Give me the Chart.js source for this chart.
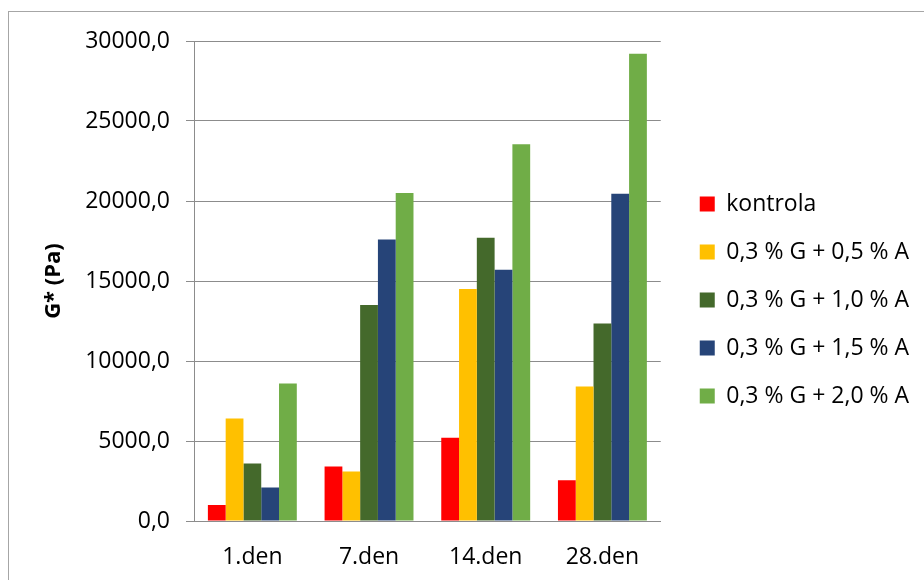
<!DOCTYPE html>
<html>
<head>
<meta charset="utf-8">
<script src="https://cdn.jsdelivr.net/npm/chart.js@4/dist/chart.umd.min.js"></script>
<style>
  html, body { margin: 0; padding: 0; background: #ffffff; }
  #wrap { position: relative; width: 924px; height: 580px; overflow: hidden; }
</style>
</head>
<body>
<div id="wrap"><canvas id="chart" width="924" height="580"></canvas></div>
<script>
// Sampling days
const categories = ['1.den', '7.den', '14.den', '28.den'];

// Complex modulus G* (Pa) per formulation
const seriesNames = [
  'kontrola',
  '0,3 % G + 0,5 % A',
  '0,3 % G + 1,0 % A',
  '0,3 % G + 1,5 % A',
  '0,3 % G + 2,0 % A'
];
const kontrola = [1000, 3400, 5200, 2550];
const g03a05  = [6400, 3100, 14500, 8400];
const g03a10  = [3600, 13500, 17700, 12350];
const g03a15  = [2100, 17600, 15700, 20450];
const g03a20  = [8600, 20500, 23550, 29200];

// Y axis tick values
const yTickValues = [0, 5000, 10000, 15000, 20000, 25000, 30000];

const seriesColors = ['#FF0000', '#FFC000', '#44692B', '#264478', '#70AD47'];
const seriesValues = [kontrola, g03a05, g03a10, g03a15, g03a20];

Chart.defaults.font.family = "'Open Sans', sans-serif";
Chart.defaults.font.size = 23;
Chart.defaults.color = '#000000';

// Outer frame of the chart
const framePlugin = {
  id: 'frame',
  beforeDraw(chart) {
    const ctx = chart.ctx;
    ctx.save();
    ctx.fillStyle = '#ffffff';
    ctx.fillRect(0, 0, chart.width, chart.height);
    ctx.strokeStyle = '#a6a6a6';
    ctx.lineWidth = 1;
    ctx.strokeRect(8.5, 11.5, 1000, 1000);
    ctx.restore();
  }
};

// Nudge the legend column a little away from the plot
const legendPlacement = {
  id: 'legendPlacement',
  afterLayout(chart) {
    const lg = chart.legend;
    if (!lg) return;
    lg.left += 14;
    lg.right = chart.width;
    lg.top -= 6;
    lg.bottom -= 6;
  }
};

new Chart(document.getElementById('chart'), {
  type: 'bar',
  data: {
    labels: categories,
    datasets: seriesNames.map((name, i) => ({
      label: name,
      data: seriesValues[i],
      backgroundColor: seriesColors[i],
      borderWidth: 0,
      barPercentage: 1.0,
      categoryPercentage: 0.762
    }))
  },
  options: {
    responsive: false,
    animation: false,
    layout: { padding: { left: 0, top: 41, right: 43, bottom: 9 } },
    plugins: {
      tooltip: { enabled: false },
      legend: {
        position: 'right',
        align: 'center',
        labels: {
          boxWidth: 15,
          boxHeight: 15,
          padding: 25,
          color: '#000000',
          font: { size: 23 }
        }
      }
    },
    scales: {
      x: {
        grid: { display: false, drawTicks: false },
        border: { display: true, color: '#8c8c8c', width: 1 },
        ticks: { padding: 23, font: { size: 23 }, color: '#000000' },
        afterFit(scale) { scale.height = 50; }
      },
      y: {
        min: 0,
        max: 30000,
        afterBuildTicks(scale) { scale.ticks = yTickValues.map(v => ({ value: v })); },
        grid: { color: '#8c8c8c', lineWidth: 1, drawTicks: true, tickLength: 8 },
        border: { display: true, color: '#8c8c8c', width: 1 },
        ticks: {
          padding: 16,
          font: { size: 23 },
          color: '#000000',
          callback: v => v.toFixed(1).replace('.', ',')
        },
        title: {
          display: true,
          text: 'G* (Pa)',
          font: { size: 22, weight: 'bold' },
          color: '#000000',
          padding: { top: 41, bottom: 0 }
        },
        afterFit(scale) { scale.width = 194; }
      }
    }
  },
  plugins: [framePlugin, legendPlacement]
});
</script>
</body>
</html>
